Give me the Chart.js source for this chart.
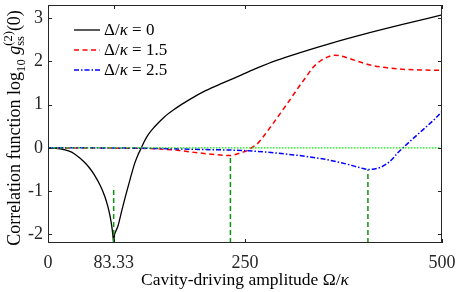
<!DOCTYPE html>
<html>
<head>
<meta charset="utf-8">
<script src="https://cdn.jsdelivr.net/npm/chart.js@4.4.1/dist/chart.umd.min.js"></script>
<style>
html,body{margin:0;padding:0;background:#fff;}
#wrap{width:458px;height:292px;position:relative;}
</style>
</head>
<body>
<div id="wrap"><canvas id="c" width="458" height="292"></canvas></div>
<script>
// ---- data ----
const xTicks = [0, 83.33, 250, 500];
const yTicks = [-2, -1, 0, 1, 2, 3];

const blackX = [0, 10, 20, 30, 38, 45, 52, 59, 66, 72, 76, 79, 81, 82.5, 83.33, 84.3, 86, 88.9, 93, 97.3, 104, 110, 114, 118.5, 122, 127, 135, 148, 161, 180, 200, 222, 245, 265, 290, 320, 360, 400, 450, 500];
const blackY = [0, -0.01, -0.04, -0.1, -0.2, -0.31, -0.45, -0.63, -0.86, -1.12, -1.36, -1.6, -1.82, -2.05, -2.2, -2.02, -1.93, -1.8, -1.5, -1.19, -0.74, -0.36, -0.17, 0, 0.14, 0.3, 0.48, 0.72, 0.9, 1.12, 1.32, 1.5, 1.68, 1.84, 2.02, 2.2, 2.42, 2.62, 2.85, 3.07];

const redX = [0, 50, 100, 135, 160, 192.5, 215, 231.5, 242, 252, 260, 265, 275, 285.5, 295, 306.7, 318, 328, 336, 345, 355, 364, 372, 383, 398, 412, 430, 446, 470, 500];
const redY = [0, -0.005, -0.01, -0.02, -0.05, -0.12, -0.16, -0.18, -0.13, -0.07, 0.02, 0.08, 0.3, 0.56, 0.8, 1.1, 1.4, 1.65, 1.85, 2.0, 2.1, 2.14, 2.12, 2.06, 1.97, 1.9, 1.85, 1.82, 1.8, 1.79];

const blueX = [0, 100, 150, 200, 255, 300, 350, 380, 398, 406, 414, 422, 430, 437, 443, 450.5, 460, 476, 490, 500];
const blueY = [0, -0.005, -0.02, -0.04, -0.07, -0.14, -0.26, -0.38, -0.47, -0.5, -0.49, -0.45, -0.37, -0.26, -0.13, 0, 0.16, 0.42, 0.65, 0.84];

const markX = [83.33, 231.5, 406];
const markTop = [-0.9, -0.18, -0.5];
const yMin = -2.2, yMax = 3.3;

const seriesLabels = ['0', '1.5', '2.5'];

// ---- build datasets ----
const pts = (xs, ys) => xs.map((x, i) => ({x: x, y: ys[i]}));
const FONT = '"Liberation Serif", serif';
const AX = '#262626';

const datasets = [
  {data: pts(blackX, blackY), borderColor: '#000000', borderWidth: 1.3, cubicInterpolationMode: 'monotone', order: 3},
  {data: pts(redX, redY), borderColor: '#ff0000', borderWidth: 1.5, borderDash: [5, 3.5], cubicInterpolationMode: 'monotone', order: 2},
  {data: pts(blueX, blueY), borderColor: '#0000ff', borderWidth: 1.5, borderDash: [5, 2, 1.5, 2], cubicInterpolationMode: 'monotone', order: 1},
  {data: [{x: 0, y: 0}, {x: 500, y: 0}], borderColor: '#00ee00', borderWidth: 1.2, borderDash: [1.5, 1.5], tension: 0, order: 0}
];
markX.forEach((mx, i) => {
  datasets.push({data: [{x: mx, y: yMin}, {x: mx, y: markTop[i]}], borderColor: '#109010', borderWidth: 1.5, borderDash: [5, 3], tension: 0, order: 0});
});
datasets.forEach(d => { d.pointRadius = 0; d.fill = false; });

function drawRich(ctx, segs, x, y, size) {
  let cx = x;
  segs.forEach(sg => {
    const fs = size * (sg.s || 1);
    ctx.font = (sg.it ? 'italic ' : '') + fs + 'px ' + FONT;
    if (sg.stack) {
      const w1 = ctx.measureText(sg.stack[0]).width, w2 = ctx.measureText(sg.stack[1]).width;
      ctx.fillText(sg.stack[0], cx, y - size * 0.45);
      ctx.fillText(sg.stack[1], cx, y + size * 0.22);
      cx += Math.max(w1, w2);
      return;
    }
    ctx.fillText(sg.t, cx, y + (sg.dy || 0) * size);
    cx += ctx.measureText(sg.t).width;
  });
  return cx - x;
}
function richWidth(ctx, segs, size) {
  let w = 0;
  segs.forEach(sg => {
    const fs = size * (sg.s || 1);
    ctx.font = (sg.it ? 'italic ' : '') + fs + 'px ' + FONT;
    if (sg.stack) { w += Math.max(ctx.measureText(sg.stack[0]).width, ctx.measureText(sg.stack[1]).width); return; }
    w += ctx.measureText(sg.t).width;
  });
  return w;
}

const decor = {
  id: 'decor',
  afterDraw(chart) {
    const ctx = chart.ctx, a = chart.chartArea;
    const xs = chart.scales.x, ys = chart.scales.y;
    ctx.save();
    ctx.strokeStyle = AX; ctx.lineWidth = 1; ctx.setLineDash([]);
    ctx.strokeRect(a.left + 0.5, a.top + 0.5, a.right - a.left - 1, a.bottom - a.top - 1);
    const tl = 4;
    ctx.beginPath();
    xTicks.forEach(v => {
      const px = Math.round(xs.getPixelForValue(v)) + 0.5;
      ctx.moveTo(px, a.bottom); ctx.lineTo(px, a.bottom - tl);
      ctx.moveTo(px, a.top); ctx.lineTo(px, a.top + tl);
    });
    yTicks.forEach(v => {
      const py = Math.round(ys.getPixelForValue(v)) + 0.5;
      ctx.moveTo(a.left, py); ctx.lineTo(a.left + tl, py);
      ctx.moveTo(a.right, py); ctx.lineTo(a.right - tl, py);
    });
    ctx.stroke();

    const lx0 = 74, lx1 = 100, rows = [30, 50, 70];
    datasets.slice(0, 3).forEach((d, i) => {
      ctx.strokeStyle = d.borderColor; ctx.lineWidth = d.borderWidth;
      ctx.setLineDash(d.borderDash || []);
      ctx.beginPath(); ctx.moveTo(lx0, rows[i]); ctx.lineTo(lx1, rows[i]); ctx.stroke();
      ctx.setLineDash([]);
      ctx.fillStyle = '#000'; ctx.textBaseline = 'middle'; ctx.textAlign = 'left';
      drawRich(ctx, [{t: 'Δ/'}, {t: 'κ', it: true}, {t: ' = ' + seriesLabels[i]}], 104, rows[i] + 1, 17);
    });

    ctx.fillStyle = '#000'; ctx.textBaseline = 'alphabetic';
    const xt = [{t: 'Cavity-driving amplitude Ω/'}, {t: 'κ', it: true}];
    const wx = richWidth(ctx, xt, 17.5);
    drawRich(ctx, xt, (a.left + a.right) / 2 - wx / 2, 285, 17.5);

    const yt = [{t: 'Correlation function log'}, {t: '10', s: 0.7, dy: 0.25}, {t: ' '}, {t: 'g', it: true}, {stack: ['(2)', 'ss'], s: 0.7}, {t: '(0)'}];
    const wy = richWidth(ctx, yt, 18);
    ctx.save();
    ctx.translate(20, (a.top + a.bottom) / 2 + 4);
    ctx.rotate(-Math.PI / 2);
    drawRich(ctx, yt, -wy / 2, 0, 18);
    ctx.restore();
    ctx.restore();
  }
};

new Chart(document.getElementById('c'), {
  type: 'line',
  data: {datasets: datasets},
  options: {
    responsive: false,
    animation: false,
    layout: {padding: {top: 5, right: 16, left: 0, bottom: 0}},
    plugins: {legend: {display: false}, tooltip: {enabled: false}},
    scales: {
      x: {
        type: 'linear', min: 0, max: 500,
        grid: {display: false, drawTicks: false},
        border: {display: false},
        afterBuildTicks: s => { s.ticks = xTicks.map(v => ({value: v})); },
        afterFit: s => { s.height = 49; s.paddingLeft = 0; s.paddingRight = 0; },
        ticks: {color: AX, font: {family: FONT, size: 18}, padding: 9, maxRotation: 0, autoSkip: false,
          callback: v => (v === 83.33 ? '83.33' : String(v))}
      },
      y: {
        type: 'linear', min: yMin, max: yMax,
        grid: {display: false, drawTicks: false},
        border: {display: false},
        afterBuildTicks: s => { s.ticks = yTicks.map(v => ({value: v})); },
        afterFit: s => { s.width = 48; s.paddingTop = 0; s.paddingBottom = 0; },
        ticks: {color: AX, font: {family: FONT, size: 18}, padding: 5, callback: v => String(v)}
      }
    }
  },
  plugins: [decor]
});
</script>
</body>
</html>
